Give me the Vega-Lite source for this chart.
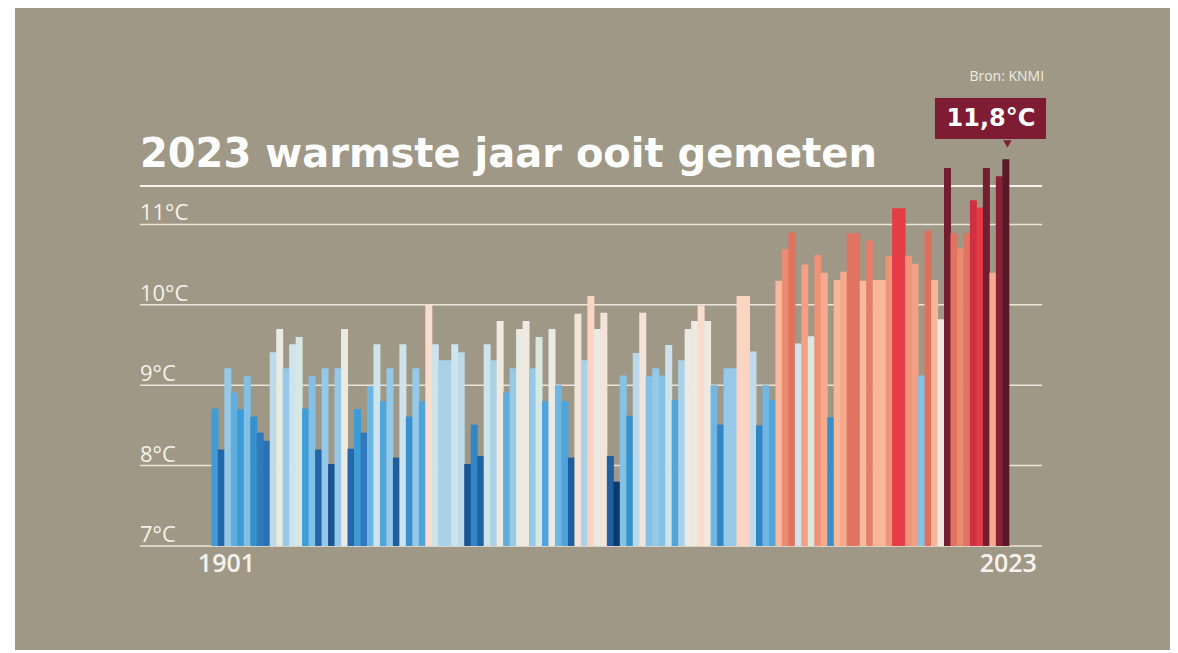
{
  "$schema": "https://vega.github.io/schema/vega-lite/v6.json",
  "width": 1155,
  "height": 642,
  "autosize": {"type": "none"},
  "padding": {"left": 15, "top": 8, "right": 8, "bottom": 3},
  "background": "#ffffff",
  "config": {"view": {"fill": "#a09886", "stroke": null}, "font": "Open Sans"},
  "datasets": {
    "grid": [
      {"t": 7, "label": "7°C"},
      {"t": 8, "label": "8°C"},
      {"t": 9, "label": "9°C"},
      {"t": 10, "label": "10°C"},
      {"t": 11, "label": "11°C"}
    ],
    "temps": [
      {"year": 1901, "temp": 8.71}, {"year": 1902, "temp": 8.20}, {"year": 1903, "temp": 9.21}, {"year": 1904, "temp": 8.91},
      {"year": 1905, "temp": 8.70}, {"year": 1906, "temp": 9.11}, {"year": 1907, "temp": 8.61}, {"year": 1908, "temp": 8.41},
      {"year": 1909, "temp": 8.31}, {"year": 1910, "temp": 9.41}, {"year": 1911, "temp": 9.70}, {"year": 1912, "temp": 9.21},
      {"year": 1913, "temp": 9.51}, {"year": 1914, "temp": 9.60}, {"year": 1915, "temp": 8.71}, {"year": 1916, "temp": 9.11},
      {"year": 1917, "temp": 8.20}, {"year": 1918, "temp": 9.21}, {"year": 1919, "temp": 8.02}, {"year": 1920, "temp": 9.21},
      {"year": 1921, "temp": 9.70}, {"year": 1922, "temp": 8.21}, {"year": 1923, "temp": 8.70}, {"year": 1924, "temp": 8.41},
      {"year": 1925, "temp": 8.99}, {"year": 1926, "temp": 9.51}, {"year": 1927, "temp": 8.80}, {"year": 1928, "temp": 9.21},
      {"year": 1929, "temp": 8.10}, {"year": 1930, "temp": 9.51}, {"year": 1931, "temp": 8.61}, {"year": 1932, "temp": 9.21},
      {"year": 1933, "temp": 8.80}, {"year": 1934, "temp": 10.00}, {"year": 1935, "temp": 9.51}, {"year": 1936, "temp": 9.31},
      {"year": 1937, "temp": 9.31}, {"year": 1938, "temp": 9.51}, {"year": 1939, "temp": 9.41}, {"year": 1940, "temp": 8.02},
      {"year": 1941, "temp": 8.51}, {"year": 1942, "temp": 8.12}, {"year": 1943, "temp": 9.51}, {"year": 1944, "temp": 9.31},
      {"year": 1945, "temp": 9.80}, {"year": 1946, "temp": 8.91}, {"year": 1947, "temp": 9.21}, {"year": 1948, "temp": 9.70},
      {"year": 1949, "temp": 9.80}, {"year": 1950, "temp": 9.21}, {"year": 1951, "temp": 9.60}, {"year": 1952, "temp": 8.80},
      {"year": 1953, "temp": 9.70}, {"year": 1954, "temp": 9.00}, {"year": 1955, "temp": 8.80}, {"year": 1956, "temp": 8.10},
      {"year": 1957, "temp": 9.89}, {"year": 1958, "temp": 9.31}, {"year": 1959, "temp": 10.11}, {"year": 1960, "temp": 9.70},
      {"year": 1961, "temp": 9.90}, {"year": 1962, "temp": 8.12}, {"year": 1963, "temp": 7.80}, {"year": 1964, "temp": 9.12},
      {"year": 1965, "temp": 8.62}, {"year": 1966, "temp": 9.40}, {"year": 1967, "temp": 9.90}, {"year": 1968, "temp": 9.11},
      {"year": 1969, "temp": 9.21}, {"year": 1970, "temp": 9.12}, {"year": 1971, "temp": 9.50}, {"year": 1972, "temp": 8.82},
      {"year": 1973, "temp": 9.31}, {"year": 1974, "temp": 9.70}, {"year": 1975, "temp": 9.80}, {"year": 1976, "temp": 9.99},
      {"year": 1977, "temp": 9.80}, {"year": 1978, "temp": 9.00}, {"year": 1979, "temp": 8.51}, {"year": 1980, "temp": 9.21},
      {"year": 1981, "temp": 9.21}, {"year": 1982, "temp": 10.11}, {"year": 1983, "temp": 10.11}, {"year": 1984, "temp": 9.42},
      {"year": 1985, "temp": 8.50}, {"year": 1986, "temp": 9.00}, {"year": 1987, "temp": 8.82}, {"year": 1988, "temp": 10.30},
      {"year": 1989, "temp": 10.69}, {"year": 1990, "temp": 10.90}, {"year": 1991, "temp": 9.52}, {"year": 1992, "temp": 10.50},
      {"year": 1993, "temp": 9.61}, {"year": 1994, "temp": 10.62}, {"year": 1995, "temp": 10.40}, {"year": 1996, "temp": 8.60},
      {"year": 1997, "temp": 10.31}, {"year": 1998, "temp": 10.41}, {"year": 1999, "temp": 10.89}, {"year": 2000, "temp": 10.89},
      {"year": 2001, "temp": 10.30}, {"year": 2002, "temp": 10.80}, {"year": 2003, "temp": 10.31}, {"year": 2004, "temp": 10.31},
      {"year": 2005, "temp": 10.61}, {"year": 2006, "temp": 11.20}, {"year": 2007, "temp": 11.20}, {"year": 2008, "temp": 10.61},
      {"year": 2009, "temp": 10.51}, {"year": 2010, "temp": 9.12}, {"year": 2011, "temp": 10.92}, {"year": 2012, "temp": 10.31},
      {"year": 2013, "temp": 9.82}, {"year": 2014, "temp": 11.70}, {"year": 2015, "temp": 10.89}, {"year": 2016, "temp": 10.70},
      {"year": 2017, "temp": 10.89}, {"year": 2018, "temp": 11.30}, {"year": 2019, "temp": 11.21}, {"year": 2020, "temp": 11.70},
      {"year": 2021, "temp": 10.40}, {"year": 2022, "temp": 11.60}, {"year": 2023, "temp": 11.81}
    ]
  },
  "layer": [
    {
      "data": {"name": "grid"},
      "mark": {"type": "rule", "color": "#ebe6dc", "strokeWidth": 1.5},
      "encoding": {
        "x": {"datum": 1889.445, "type": "quantitative", "scale": {"domain": [1870.944, 2047.549], "nice": false, "zero": false}, "axis": null},
        "x2": {"datum": 2028.59},
        "y": {"field": "t", "type": "quantitative", "scale": {"domain": [5.7065, 13.6915], "nice": false, "zero": false}, "axis": null}
      }
    },
    {
      "data": {"values": [{"t": 11.478}]},
      "mark": {"type": "rule", "color": "#f6f3ee", "strokeWidth": 2},
      "encoding": {
        "x": {"datum": 1889.445, "type": "quantitative", "scale": {"domain": [1870.944, 2047.549], "nice": false, "zero": false}, "axis": null},
        "x2": {"datum": 2028.59},
        "y": {"field": "t", "type": "quantitative", "scale": {"domain": [5.7065, 13.6915], "nice": false, "zero": false}, "axis": null}
      }
    },
    {
      "data": {"name": "grid"},
      "mark": {"type": "text", "align": "left", "baseline": "alphabetic", "dy": -4, "fontSize": 22, "font": "Open Sans", "color": "#f5f2ec"},
      "encoding": {
        "x": {"datum": 1889.445, "type": "quantitative", "scale": {"domain": [1870.944, 2047.549], "nice": false, "zero": false}, "axis": null},
        "y": {"field": "t", "type": "quantitative", "scale": {"domain": [5.7065, 13.6915], "nice": false, "zero": false}, "axis": null},
        "text": {"field": "label"}
      }
    },
    {
      "data": {"name": "temps"},
      "mark": {"type": "bar", "width": 7, "cornerRadius": 0},
      "encoding": {
        "x": {"field": "year", "type": "quantitative", "scale": {"domain": [1870.944, 2047.549], "nice": false, "zero": false}, "axis": null},
        "y": {"field": "temp", "type": "quantitative", "scale": {"domain": [5.7065, 13.6915], "nice": false, "zero": false}, "axis": null},
        "y2": {"datum": 7},
        "color": {
          "field": "temp", "type": "quantitative", "legend": null,
          "scale": {
            "type": "linear",
            "domain": [7.8, 8.1, 8.4, 8.7, 9.0, 9.2, 9.5, 9.75, 9.9, 10.1, 10.35, 10.6, 10.9, 11.2, 11.35, 11.6],
            "range": ["#0b3a70", "#1f5e9e", "#2f78bb", "#3d9bd6", "#6fb6e2", "#93c8e7", "#cfe2ec", "#efebe5", "#f3e3d8", "#fbd6c3", "#f8b193", "#f0957a", "#df735f", "#e43d46", "#c62a40", "#8a2036"]
          }
        }
      }
    },
    {
      "data": {"values": [{"year": 1901, "label": "1901"}]},
      "mark": {"type": "text", "align": "left", "baseline": "alphabetic", "dx": -17, "fontSize": 25, "fontWeight": 600, "font": "Open Sans", "color": "#f6f3ee"},
      "encoding": {
        "x": {"field": "year", "type": "quantitative", "scale": {"domain": [1870.944, 2047.549], "nice": false, "zero": false}, "axis": null},
        "y": {"datum": 6.677, "type": "quantitative", "scale": {"domain": [5.7065, 13.6915], "nice": false, "zero": false}, "axis": null},
        "text": {"field": "label"}
      }
    },
    {
      "data": {"values": [{"year": 2023, "label": "2023"}]},
      "mark": {"type": "text", "align": "right", "baseline": "alphabetic", "dx": 31, "fontSize": 25, "fontWeight": 600, "font": "Open Sans", "color": "#f6f3ee"},
      "encoding": {
        "x": {"field": "year", "type": "quantitative", "scale": {"domain": [1870.944, 2047.549], "nice": false, "zero": false}, "axis": null},
        "y": {"datum": 6.677, "type": "quantitative", "scale": {"domain": [5.7065, 13.6915], "nice": false, "zero": false}, "axis": null},
        "text": {"field": "label"}
      }
    },
    {
      "data": {"values": [{"label": "2023 warmste jaar ooit gemeten"}]},
      "mark": {"type": "text", "align": "left", "baseline": "alphabetic", "fontSize": 40, "fontWeight": "bold", "font": "DejaVu Sans", "color": "#ffffff"},
      "encoding": {
        "x": {"datum": 1889.445, "type": "quantitative", "scale": {"domain": [1870.944, 2047.549], "nice": false, "zero": false}, "axis": null},
        "y": {"datum": 11.714, "type": "quantitative", "scale": {"domain": [5.7065, 13.6915], "nice": false, "zero": false}, "axis": null},
        "text": {"field": "label"}
      }
    },
    {
      "data": {"values": [{"label": "Bron: KNMI"}]},
      "mark": {"type": "text", "align": "right", "baseline": "alphabetic", "fontSize": 14, "font": "Open Sans", "color": "#efebe4"},
      "encoding": {
        "x": {"datum": 2028.9, "type": "quantitative", "scale": {"domain": [1870.944, 2047.549], "nice": false, "zero": false}, "axis": null},
        "y": {"datum": 12.784, "type": "quantitative", "scale": {"domain": [5.7065, 13.6915], "nice": false, "zero": false}, "axis": null},
        "text": {"field": "label"}
      }
    },
    {
      "data": {"values": [{"label": "11,8°C"}]},
      "mark": {"type": "rect", "color": "#7d1c33"},
      "encoding": {
        "x": {"datum": 2012.07, "type": "quantitative", "scale": {"domain": [1870.944, 2047.549], "nice": false, "zero": false}, "axis": null},
        "x2": {"datum": 2029.2},
        "y": {"datum": 12.062, "type": "quantitative", "scale": {"domain": [5.7065, 13.6915], "nice": false, "zero": false}, "axis": null},
        "y2": {"datum": 12.572}
      }
    },
    {
      "data": {"values": [{"label": "11,8°C"}]},
      "mark": {"type": "point", "shape": "triangle-down", "filled": true, "size": 70, "color": "#7d1c33", "opacity": 1},
      "encoding": {
        "x": {"datum": 2023.24, "type": "quantitative", "scale": {"domain": [1870.944, 2047.549], "nice": false, "zero": false}, "axis": null},
        "y": {"datum": 12.0, "type": "quantitative", "scale": {"domain": [5.7065, 13.6915], "nice": false, "zero": false}, "axis": null}
      }
    },
    {
      "data": {"values": [{"label": "11,8°C"}]},
      "mark": {"type": "text", "align": "center", "baseline": "alphabetic", "fontSize": 24, "fontWeight": "bold", "font": "DejaVu Sans", "color": "#ffffff"},
      "encoding": {
        "x": {"datum": 2020.71, "type": "quantitative", "scale": {"domain": [1870.944, 2047.549], "nice": false, "zero": false}, "axis": null},
        "y": {"datum": 12.218, "type": "quantitative", "scale": {"domain": [5.7065, 13.6915], "nice": false, "zero": false}, "axis": null},
        "text": {"field": "label"}
      }
    }
  ]
}
